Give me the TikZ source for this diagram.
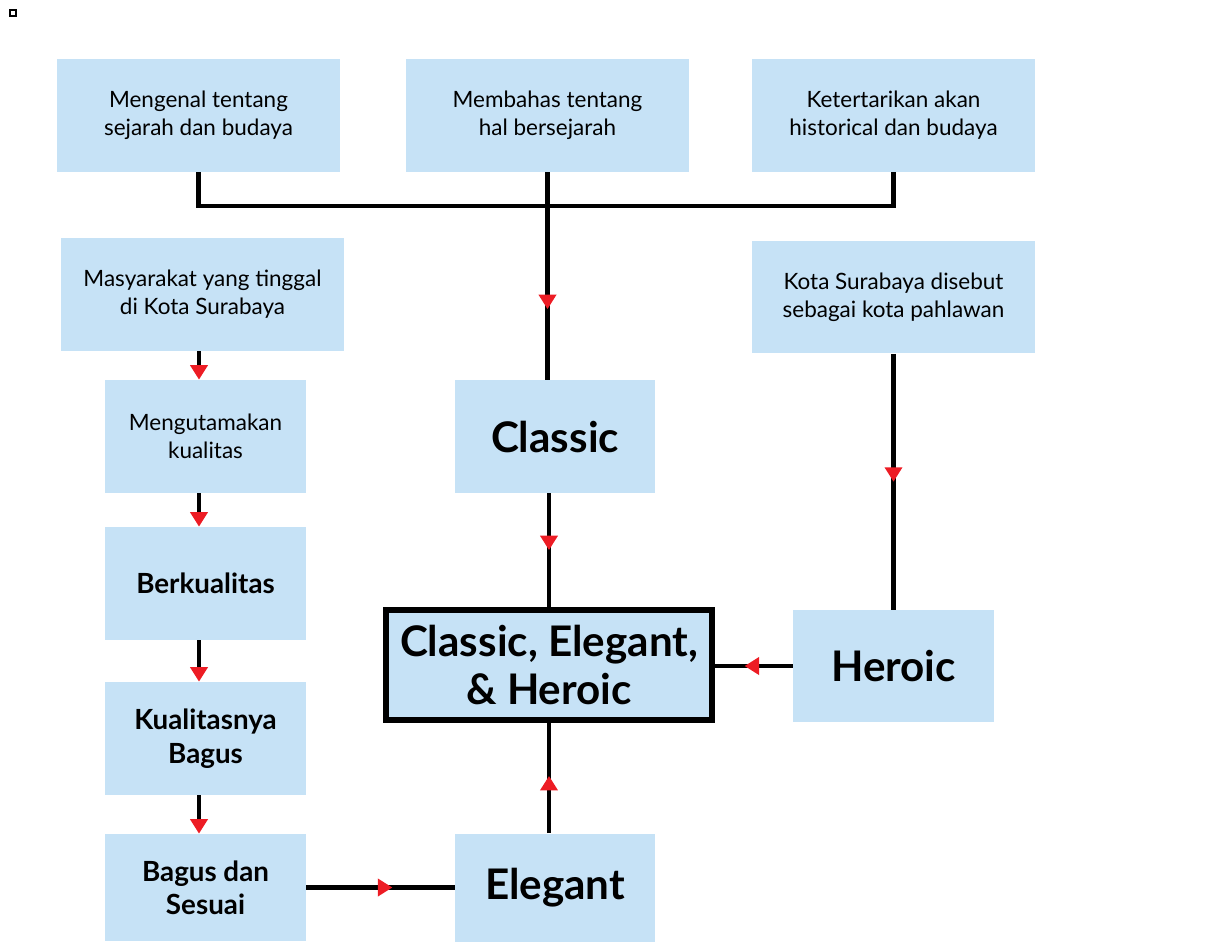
\documentclass[tikz,border=0pt]{standalone}
\usepackage{fontspec}
\setmainfont{Lato}
\usepackage{tikz}
\usetikzlibrary{arrows.meta, decorations.markings}
\definecolor{boxblue}{RGB}{198,226,246}
\definecolor{tipred}{RGB}{237,28,36}

\begin{document}
\begin{tikzpicture}[x=0.02cm, y=-0.02cm,
  tipr/.tip={Triangle[length=0.29cm, width=0.34cm, color=tipred]},
  wide/.style={fill=boxblue, inner sep=0pt, minimum width=5.66cm, minimum height=2.26cm, align=center, font=\fontsize{12.8}{16}\selectfont},
  narrow/.style={fill=boxblue, inner sep=0pt, minimum width=4.02cm, minimum height=2.26cm, align=center},
  midtxt/.style={font=\bfseries\fontsize{15.8}{19}\selectfont},
  bigtxt/.style={font=\bfseries\fontsize{24}{27.5}\selectfont},
  flow/.style={line width=2.8pt},
  midtip/.style={postaction={decorate}, decoration={markings, mark=at position #1 with {\arrow{tipr}}}}]
\useasboundingbox (0,0) rectangle (1207,941);
\draw[line width=0.05cm] (10,10) rectangle (16,16);

\node[wide] (b1) at (198.5,115.5) {Mengenal tentang\\sejarah dan budaya};
\node[wide] (b2) at (547.5,115.5) {Membahas tentang\\hal bersejarah};
\node[wide] (b3) at (893.5,115.5) {Ketertarikan akan\\historical dan budaya};
\node[wide] (b4) at (202.5,294.5) {Masyarakat yang tinggal\\di Kota Surabaya};
\node[wide] (b5) at (893.5,297) {Kota Surabaya disebut\\sebagai kota pahlawan};
\node[narrow, font=\fontsize{12.8}{16}\selectfont] (b6) at (205.5,436.5) {Mengutamakan\\kualitas};
\node[narrow, bigtxt, minimum width=4cm] (b7) at (555,436.5) {Classic};
\node[narrow, midtxt] (b8) at (205.5,583.5) {Berkualitas};
\node[narrow, bigtxt, draw, line width=3.5pt, minimum width=6.52cm, minimum height=2.2cm] (b9) at (549,665) {Classic, Elegant,\\\& Heroic};
\node[narrow, bigtxt, minimum height=2.24cm] (b10) at (893.5,666) {Heroic};
\node[narrow, midtxt] (b11) at (205.5,738.5) {Kualitasnya\\Bagus};
\node[narrow, midtxt, minimum height=2.14cm] (b12) at (205.5,887.5) {Bagus dan\\Sesuai};
\node[narrow, bigtxt, minimum width=4cm, minimum height=2.16cm] (b13) at (555,887.5) {Elegant};

\coordinate (bus) at (548,206);
\coordinate (lx) at (199,0);
\draw[flow] (b1.south) |- (bus) -| (b3.south);
\draw[flow, midtip=0.66] (b2.south) -- (b2.south |- b7.north);
\draw[flow, midtip=0.5] (b7.south -| b9.north) -- (b9.north);
\draw[flow, midtip=0.5] (b5.south) -- (b10.north);
\draw[flow, midtip=0.62] (b10.west) -- (b10.west -| b9.east);
\draw[flow, midtip=0.52] (b13.north -| b9.south) -- (b9.south);
\draw[flow, midtip=0.58] (b12.east) -- (b13.west);
\draw[flow, -{tipr}] (b4.south -| lx) -- (b6.north -| lx);
\draw[flow, -{tipr}] (b6.south -| lx) -- (b8.north -| lx);
\draw[flow, -{tipr}] (b8.south -| lx) -- (b11.north -| lx);
\draw[flow, -{tipr}] (b11.south -| lx) -- (b12.north -| lx);
\end{tikzpicture}
\end{document}
